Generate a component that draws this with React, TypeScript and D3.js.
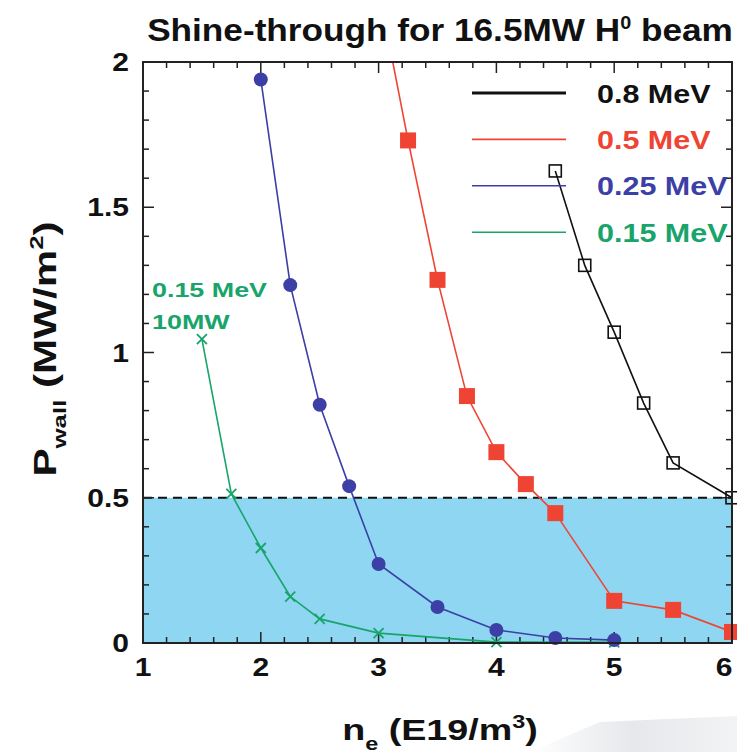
import React from 'react';
import { scaleLinear, line, range } from 'd3';

// n_e values (E19/m^3) and wall power (MW/m^2) per beam energy
const blackX = [4.5, 4.75, 5, 5.25, 5.5, 6];
const blackY = [1.625, 1.3, 1.07, 0.826, 0.62, 0.5];

const redX = [3, 3.25, 3.5, 3.75, 4, 4.25, 4.5, 5, 5.5, 6];
const redY = [2.25, 1.73, 1.25, 0.85, 0.657, 0.547, 0.447, 0.145, 0.114, 0.038];

const blueX = [2, 2.25, 2.5, 2.75, 3, 3.5, 4, 4.5, 5];
const blueY = [1.94, 1.232, 0.82, 0.54, 0.272, 0.124, 0.045, 0.017, 0.01];

const greenX = [1.5, 1.75, 2, 2.25, 2.5, 3, 4, 5];
const greenY = [1.046, 0.513, 0.327, 0.16, 0.083, 0.034, 0.003, 0.002];

const legendLabels = ['0.8 MeV', '0.5 MeV', '0.25 MeV', '0.15 MeV'];
const xTicks = [1, 2, 3, 4, 5, 6];
const yTicks = [0, 0.5, 1, 1.5, 2];
const limitLine = 0.5;

const BLACK = '#111';
const RED = '#ef4433';
const BLUE = '#3c3fa6';
const GREEN = '#18a46a';
const FILL = '#8ed6f2';

// text that is a bit wider than the font, like the original slide
const Txt = ({
  x,
  y,
  size,
  sx = 1.2,
  anchor = 'start',
  rot = 0,
  fill = '#111',
  children,
}: any) => (
  <text
    transform={`translate(${x},${y}) rotate(${rot}) scale(${sx},1)`}
    fontSize={size}
    fontWeight="bold"
    textAnchor={anchor}
    fill={fill}
  >
    {children}
  </text>
);

export default function App() {
  const width = 737;
  const height = 752;
  const m = { left: 143, right: 732, top: 62, bottom: 643 };

  const x = scaleLinear().domain([1, 6]).range([m.left, m.right]);
  const y = scaleLinear().domain([0, 2]).range([m.bottom, m.top]);

  const path = line<[number, number]>()
    .x((d) => x(d[0]))
    .y((d) => y(d[1]));

  const pts = (xs: number[], ys: number[]) =>
    xs.map((v, i) => [v, ys[i]] as [number, number]);

  const black = pts(blackX, blackY);
  const red = pts(redX, redY);
  const blue = pts(blueX, blueY);
  const green = pts(greenX, greenY);

  const font = 'Liberation Sans, Arial, Helvetica, sans-serif';

  const xMinor = range(1, 6.001, 0.2);
  const yMinor = range(0, 2.001, 0.1);

  return (
    <svg
      width={width}
      height={height}
      style={{ position: 'absolute', left: 0, top: 0, background: '#fff' }}
      fontFamily={font}
    >
      <defs>
        <clipPath id="plot">
          <rect x={m.left} y={m.top} width={m.right - m.left} height={m.bottom - m.top} />
        </clipPath>
        <linearGradient id="deco" x1="0" x2="1" y1="0" y2="0">
          <stop offset="0" stopColor="#fff" />
          <stop offset="0.5" stopColor="#dfe2e6" />
          <stop offset="1" stopColor="#eef0f2" />
        </linearGradient>
      </defs>

      {/* decorative slide shape bottom right */}
      <path d="M 530 752 L 600 722 L 737 716 L 737 752 Z" fill="url(#deco)" opacity={0.8} />

      {/* title */}
      <Txt x={440} y={41} size={32} sx={1.1} anchor="middle">
        Shine-through for 16.5MW H
        <tspan dy={-12} fontSize={18}>0</tspan>
        <tspan dy={12}> beam</tspan>
      </Txt>

      {/* shaded region below limit */}
      <rect
        x={m.left}
        y={y(limitLine)}
        width={m.right - m.left}
        height={y(0) - y(limitLine)}
        fill={FILL}
      />
      <line
        x1={m.left}
        x2={m.right}
        y1={y(limitLine)}
        y2={y(limitLine)}
        stroke="#111"
        strokeWidth={2}
        strokeDasharray="9,6"
      />

      {/* ticks */}
      <g stroke="#222" strokeWidth={1.5}>
        {xMinor.map((t, i) => {
          const major = Math.abs(t - Math.round(t)) < 1e-6;
          const len = major ? 11 : 6;
          return (
            <g key={'xt' + i}>
              <line x1={x(t)} x2={x(t)} y1={m.bottom} y2={m.bottom - len} />
              <line x1={x(t)} x2={x(t)} y1={m.top} y2={m.top + len} />
            </g>
          );
        })}
        {yMinor.map((t, i) => {
          const major = Math.abs(t * 2 - Math.round(t * 2)) < 1e-6;
          const len = major ? 11 : 6;
          return (
            <g key={'yt' + i}>
              <line x1={m.left} x2={m.left + len} y1={y(t)} y2={y(t)} />
              <line x1={m.right} x2={m.right - len} y1={y(t)} y2={y(t)} />
            </g>
          );
        })}
      </g>

      {/* series */}
      <g clipPath="url(#plot)" fill="none" strokeWidth={1.6}>
        <path d={path(green) || ''} stroke={GREEN} />
        <path d={path(blue) || ''} stroke={BLUE} />
        <path d={path(red) || ''} stroke={RED} />
        <path d={path(black) || ''} stroke={BLACK} />
      </g>

      {/* markers */}
      <g>
        {green.map((d, i) => (
          <g key={'g' + i} stroke={GREEN} strokeWidth={1.8}>
            <line x1={x(d[0]) - 5} x2={x(d[0]) + 5} y1={y(d[1]) - 5} y2={y(d[1]) + 5} />
            <line x1={x(d[0]) - 5} x2={x(d[0]) + 5} y1={y(d[1]) + 5} y2={y(d[1]) - 5} />
          </g>
        ))}
        {blue.map((d, i) => (
          <circle key={'b' + i} cx={x(d[0])} cy={y(d[1])} r={7} fill={BLUE} />
        ))}
        {red
          .filter((d) => d[1] <= 2)
          .map((d, i) => (
            <rect key={'r' + i} x={x(d[0]) - 8} y={y(d[1]) - 8} width={16} height={16} fill={RED} />
          ))}
        {black.map((d, i) => (
          <rect
            key={'k' + i}
            x={x(d[0]) - 6}
            y={y(d[1]) - 6}
            width={12}
            height={12}
            fill="none"
            stroke={BLACK}
            strokeWidth={1.6}
          />
        ))}
      </g>

      {/* frame */}
      <rect
        x={m.left}
        y={m.top}
        width={m.right - m.left}
        height={m.bottom - m.top}
        fill="none"
        stroke="#222"
        strokeWidth={2}
      />

      {/* tick labels */}
      {xTicks.map((t) => (
        <Txt key={'xl' + t} x={Math.min(x(t), 724)} y={676} size={25} anchor="middle">
          {t}
        </Txt>
      ))}
      {yTicks.map((t) => (
        <Txt key={'yl' + t} x={129} y={y(t) + 9} size={25} anchor="end">
          {t}
        </Txt>
      ))}

      {/* axis titles */}
      <Txt x={440} y={740} size={29} sx={1.3} anchor="middle">
        n<tspan dy={10} fontSize={18}>e</tspan>
        <tspan dy={-10}> (E19/m</tspan>
        <tspan dy={-12} fontSize={18}>3</tspan>
        <tspan dy={12}>)</tspan>
      </Txt>
      <Txt x={56} y={349} size={31} sx={1.36} rot={-90} anchor="middle">
        P<tspan dy={10} fontSize={19}>wall</tspan>
        <tspan dy={-10}> (MW/m</tspan>
        <tspan dy={-13} fontSize={19}>2</tspan>
        <tspan dy={13}>)</tspan>
      </Txt>

      {/* legend */}
      {legendLabels.map((lab, i) => {
        const col = [BLACK, RED, BLUE, GREEN][i];
        const ly = 93 + i * 46.4;
        return (
          <g key={lab}>
            <line x1={472} x2={566} y1={ly} y2={ly} stroke={col} strokeWidth={i === 0 ? 2.8 : 1.6} />
            <Txt x={597} y={ly + 9.5} size={25} sx={1.22} fill={col}>
              {lab}
            </Txt>
          </g>
        );
      })}

      {/* annotation */}
      <Txt x={152} y={297} size={21} sx={1.28} fill={GREEN}>
        0.15 MeV
      </Txt>
      <Txt x={152} y={329} size={21} sx={1.28} fill={GREEN}>
        10MW
      </Txt>
    </svg>
  );
}
